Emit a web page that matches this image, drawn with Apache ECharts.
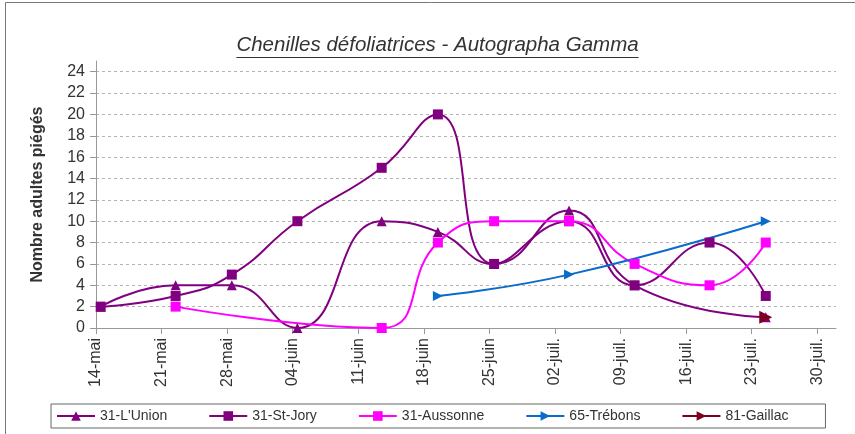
<!DOCTYPE html>
<html>
<head>
<meta charset="utf-8">
<script src="https://cdn.jsdelivr.net/npm/echarts@6/dist/echarts.min.js"></script>
<style>
  html, body { margin: 0; padding: 0; background: #fff; }
  #c { width: 855px; height: 434px; }
</style>
</head>
<body>
<div id="c"></div>
<script>
// axe des dates : une graduation par semaine, à partir du 14 mai
var tickLabels = ['14-mai', '21-mai', '28-mai', '04-juin', '11-juin', '18-juin',
                  '25-juin', '02-juil.', '09-juil.', '16-juil.', '23-juil.', '30-juil.'];
// dates des relevés, en jours depuis le 14-mai
// (14-mai, 22-mai, 28-mai, 04-juin, 13-juin, 19-juin, 25-juin, 03-juil, 10-juil, 18-juil, 24-juil)
var sampleDays = [0, 8, 14, 21, 30, 36, 42, 50, 57, 65, 71];

// captures par site (null = pas de relevé)
var lUnion   = [2, 4, 4, 0, 10, 9, 6, 11, 4, null, 1];
var stJory   = [2, 3, 5, 10, 15, 20, 6, 10, 4, 8, 3];
var aussonne = [null, 2, null, null, 0, 8, 10, 10, 6, 4, 8];
var trebons  = [null, null, null, null, null, 3, null, 5, null, null, 10];
var gaillac  = [null, null, null, null, null, null, null, null, null, null, 1];

var yTicks = [0, 2, 4, 6, 8, 10, 12, 14, 16, 18, 20, 22, 24];

var titre = 'Chenilles défoliatrices - Autographa Gamma';
var font = '"Liberation Sans", Arial, sans-serif';

// point placé au milieu de la journée, comme dans le tableur
function points(values) {
    var out = [];
    for (var i = 0; i < values.length; i++) {
        if (values[i] !== null) out.push([sampleDays[i] + 0.5, values[i]]);
    }
    return out;
}

var weekTicks = tickLabels.map(function (l, i) { return i * 7; });

function serie(name, values, color, symbol, size, rotate) {
    return {
        name: name,
        type: 'line',
        data: points(values),
        smooth: 0.5,
        color: color,
        symbol: symbol,
        symbolSize: size,
        symbolRotate: rotate || 0,
        showAllSymbol: true,
        lineStyle: { width: 2, color: color },
        itemStyle: { color: color },
        emphasis: { disabled: true }
    };
}

// largeur du titre pour le soulignement
var ctx = document.createElement('canvas').getContext('2d');
ctx.font = 'italic 20.5px "Liberation Sans"';
var titreW = ctx.measureText(titre).width;

var myChart = echarts.init(document.getElementById('c'));
var option = {
    animation: false,
    textStyle: { fontFamily: font },
    grid: { left: 96, right: 19, top: 61, bottom: 106, containLabel: false },
    graphic: [
        { type: 'rect', shape: { x: 5.5, y: 2.5, width: 900, height: 500 },
          style: { fill: null, stroke: '#777', lineWidth: 1 } },
        { type: 'text', x: 437.5, y: 45.5,
          style: { text: titre, font: 'italic 20.5px ' + font, fill: '#333',
                   textAlign: 'center', textVerticalAlign: 'middle' } },
        { type: 'line', shape: { x1: 437.5 - titreW / 2, y1: 57.5, x2: 437.5 + titreW / 2, y2: 57.5 },
          style: { stroke: '#333', lineWidth: 1 } }
    ],
    legend: {
        left: 51, top: 404,
        padding: [5, 37, 5, 5],
        itemGap: 41,
        itemWidth: 38,
        itemHeight: 12,
        borderColor: '#666',
        borderWidth: 1,
        textStyle: { fontSize: 14, color: '#333', fontFamily: font },
        data: ["31-L'Union", '31-St-Jory', '31-Aussonne', '65-Trébons', '81-Gaillac']
    },
    xAxis: {
        type: 'value',
        min: 0,
        max: 79,
        interval: 7,
        axisLine: { show: true, lineStyle: { color: '#999', width: 1 } },
        axisTick: { show: true, length: 6, customValues: weekTicks, lineStyle: { color: '#999' } },
        splitLine: { show: false },
        axisLabel: {
            customValues: weekTicks,
            rotate: 90,
            margin: 10,
            fontSize: 16,
            color: '#333',
            fontFamily: font,
            formatter: function (v) { return tickLabels[Math.round(v / 7)]; }
        }
    },
    yAxis: {
        type: 'value',
        min: 0,
        max: 25,
        interval: 2,
        name: 'Nombre adultes piégés',
        nameLocation: 'middle',
        nameGap: 50,
        nameRotate: 90,
        nameTextStyle: { fontSize: 16, fontWeight: 'bold', color: '#333', fontFamily: font },
        axisLine: { show: true, lineStyle: { color: '#999', width: 1 } },
        axisTick: { show: true, length: 6, customValues: yTicks, lineStyle: { color: '#999' } },
        axisLabel: { customValues: yTicks, margin: 11, fontSize: 16, color: '#333', fontFamily: font },
        splitLine: { show: true, lineStyle: { color: '#b3b3b3', type: [3, 3], width: 1 } }
    },
    series: [
        serie("31-L'Union", lUnion, '#800080', 'triangle', 10),
        serie('31-St-Jory', stJory, '#800080', 'rect', 10),
        serie('31-Aussonne', aussonne, '#ff00ff', 'rect', 10),
        serie('65-Trébons', trebons, '#0b6bcb', 'triangle', 10, -90),
        serie('81-Gaillac', gaillac, '#7e0021', 'triangle', 13, -90)
    ]
};
myChart.setOption(option);
</script>
</body>
</html>
